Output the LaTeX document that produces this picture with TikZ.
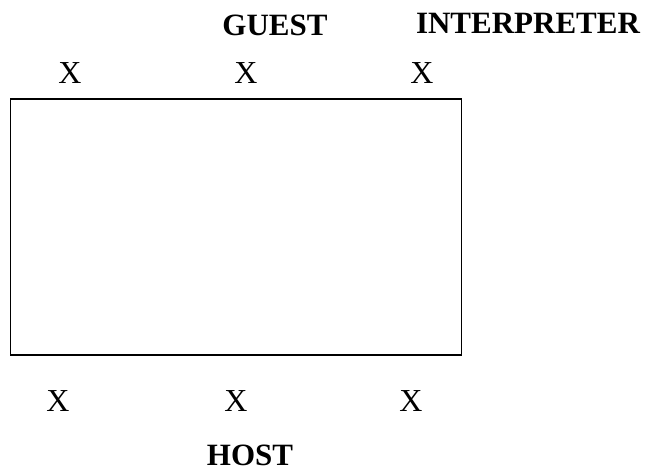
\documentclass[tikz,border=0pt]{standalone}
\usepackage{fontspec}
\setmainfont{Liberation Serif}
\begin{document}
\begin{tikzpicture}[x=1pt,y=-1pt,
  lbl/.style={font=\fontsize{31}{31}\selectfont\bfseries,inner sep=0pt,anchor=center},
  xmark/.style={font=\fontsize{32}{32}\selectfont,inner sep=0pt,anchor=center},
  frame/.style={draw=black,line width=1.8pt,inner sep=0pt}]
\useasboundingbox (0,0) rectangle (648,471);
\node[frame,minimum width=451pt,minimum height=256pt] (box) at (236,227) {};
\node[lbl] (guest) at (275,25) {GUEST};
\node[lbl] (interp) at (528,23) {INTERPRETER};
\node[xmark] (t1) at (70,73) {X};
\node[xmark] (t2) at (246,73) {X};
\node[xmark] (t3) at (422,73) {X};
\node[xmark] (b1) at (58,401) {X};
\node[xmark] (b2) at (236,401) {X};
\node[xmark] (b3) at (411,401) {X};
\node[lbl] (host) at (250,455) {HOST};
\end{tikzpicture}
\end{document}
